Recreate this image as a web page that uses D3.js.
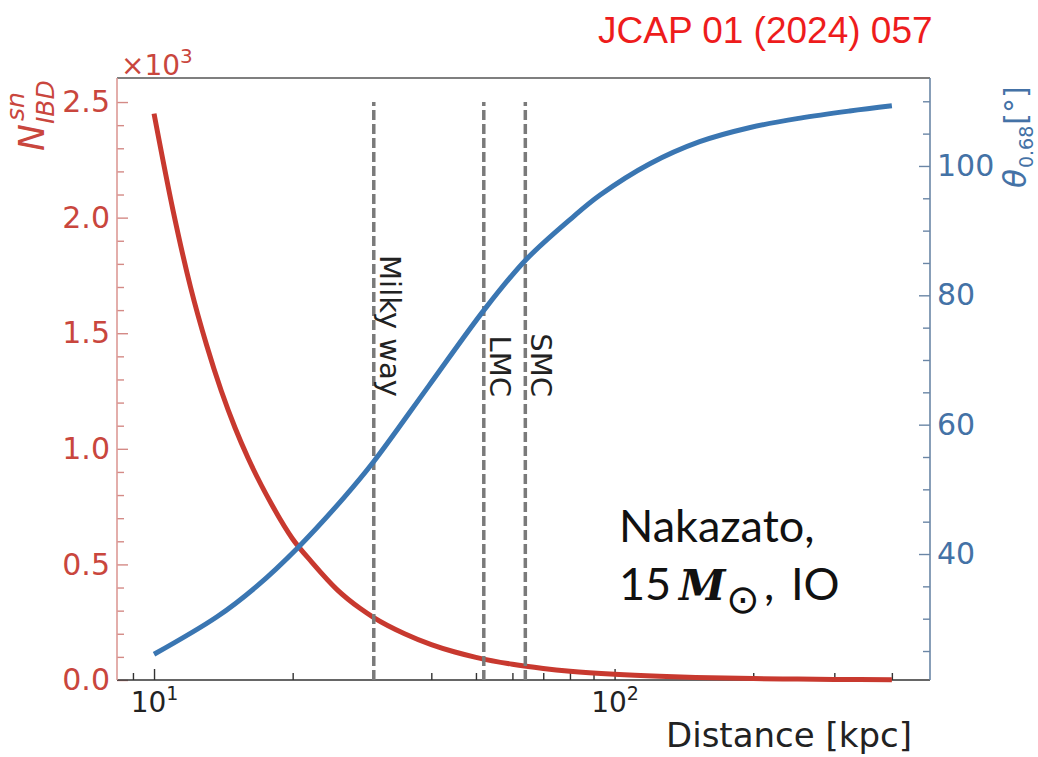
<!DOCTYPE html>
<html>
<head>
<meta charset="utf-8">
<script src="https://cdn.jsdelivr.net/npm/d3@7"></script>
<style>
  body { margin: 0; background: #ffffff; }
  svg { display: block; }
</style>
</head>
<body>
<svg id="chart" width="1038" height="757"></svg>
<script>
// IBD event count (in units of 10^3) versus distance [kpc]
const distanceN = [10, 11, 12, 13, 14, 15, 16, 18, 20, 22, 25, 28, 30, 35, 40, 45, 50, 60, 70, 80, 100, 125, 150, 200, 250, 300, 400];
const nIBD      = [2.45, 2.03, 1.70, 1.45, 1.25, 1.09, 0.96, 0.76, 0.61, 0.51, 0.39, 0.31, 0.27, 0.20, 0.153, 0.121, 0.098, 0.068, 0.050, 0.038, 0.0245, 0.0157, 0.0109, 0.0061, 0.0039, 0.0027, 0.0015];

// 68% pointing cone half-angle [deg] versus distance [kpc]
const distanceTheta = [10, 13.7, 16.7, 20.6, 25.9, 30, 39.5, 52.3, 64.2, 81.2, 93, 119, 153, 197, 253, 324, 400];
const theta68       = [24.5, 30.3, 35.0, 41.1, 48.8, 54.3, 66.0, 77.9, 85.5, 92.1, 95.5, 100.3, 103.75, 105.95, 107.4, 108.5, 109.3];

// reference distances of known galaxies [kpc]
const markerNames = ["Milky way", "LMC", "SMC"];
const markerDistances = [30, 52, 64];

// axis ticks
const leftTicks = [0, 0.5, 1.0, 1.5, 2.0, 2.5];
const leftMinor = d3.range(0, 26).map(i => i / 10).filter(v => Math.round(v * 10) % 5 !== 0);
const rightTicks = [40, 60, 80, 100];
const rightMinor = [25, 30, 35, 45, 50, 55, 65, 70, 75, 85, 90, 95, 105, 110];
const xTicks = [10, 100];
const xMinor = [9, 20, 30, 40, 50, 60, 70, 80, 90, 200, 300, 400];

const plot = { left: 117, right: 930, top: 78, bottom: 680 };

const RED = "#c8392f", RED_TXT = "#c9463d";
const BLUE = "#3a76b2", BLUE_TXT = "#4472a6";
const FONT = "DejaVu Sans";

const svg = d3.select("#chart");

const x = d3.scaleLog().domain([8.31, 484]).range([plot.left, plot.right]);
const yL = d3.scaleLinear().domain([0, 2.604]).range([plot.bottom, plot.top]);
const yR = d3.scaleLinear().domain([20.52, 113.6]).range([plot.bottom, plot.top]);

// ---- axes ----
function styleAxis(g, color, size) {
  g.select(".domain").remove();
  g.selectAll(".tick line").attr("stroke", color).attr("stroke-width", 1.4);
  g.selectAll(".tick text").attr("fill", color).attr("font-family", FONT).attr("font-size", size);
}

// left axis (counts)
svg.append("g")
  .attr("transform", `translate(${plot.left},0)`)
  .call(d3.axisLeft(yL).tickValues(leftMinor).tickSizeInner(-7).tickSizeOuter(0).tickFormat(""))
  .call(g => styleAxis(g, "#d48a86", 30));
svg.append("g")
  .attr("transform", `translate(${plot.left},0)`)
  .call(d3.axisLeft(yL).tickValues(leftTicks).tickSizeInner(-11).tickSizeOuter(0).tickPadding(7).tickFormat(d3.format(".1f")))
  .call(g => styleAxis(g, "#d48a86", 30))
  .call(g => g.selectAll(".tick text").attr("fill", RED_TXT));

// right axis (angle)
svg.append("g")
  .attr("transform", `translate(${plot.right},0)`)
  .call(d3.axisRight(yR).tickValues(rightMinor).tickSizeInner(-7).tickSizeOuter(0).tickFormat(""))
  .call(g => styleAxis(g, "#6a86a6", 30));
svg.append("g")
  .attr("transform", `translate(${plot.right},0)`)
  .call(d3.axisRight(yR).tickValues(rightTicks).tickSizeInner(-11).tickSizeOuter(0).tickPadding(7).tickFormat(d3.format("d")))
  .call(g => styleAxis(g, "#6a86a6", 30))
  .call(g => g.selectAll(".tick text").attr("fill", BLUE_TXT));

// bottom axis (log distance)
svg.append("g")
  .attr("transform", `translate(0,${plot.bottom})`)
  .call(d3.axisBottom(x).tickValues(xMinor).tickSizeInner(-7).tickSizeOuter(0).tickFormat(""))
  .call(g => styleAxis(g, "#333", 28));
const xAxisG = svg.append("g")
  .attr("transform", `translate(0,${plot.bottom})`)
  .call(d3.axisBottom(x).tickValues(xTicks).tickSizeInner(-11).tickSizeOuter(0).tickFormat(""))
  .call(g => styleAxis(g, "#333", 28));
xAxisG.selectAll(".tick text")
  .attr("y", 32).attr("dy", 0).attr("fill", "#222")
  .each(function(d) {
    const t = d3.select(this);
    t.append("tspan").text("10");
    t.append("tspan").attr("font-size", 19).attr("dy", -12).text(Math.round(Math.log10(d)));
  });

// spines
const spines = svg.append("g").attr("fill", "none");
spines.append("line").attr("x1", plot.left).attr("x2", plot.right).attr("y1", plot.top).attr("y2", plot.top)
  .attr("stroke", "#555").attr("stroke-width", 1.6);
spines.append("line").attr("x1", plot.left).attr("x2", plot.right).attr("y1", plot.bottom).attr("y2", plot.bottom)
  .attr("stroke", "#333").attr("stroke-width", 1.6);
spines.append("line").attr("x1", plot.left).attr("x2", plot.left).attr("y1", plot.top).attr("y2", plot.bottom)
  .attr("stroke", "#dc9a96").attr("stroke-width", 1.6);
spines.append("line").attr("x1", plot.right).attr("x2", plot.right).attr("y1", plot.top).attr("y2", plot.bottom)
  .attr("stroke", "#6a86a6").attr("stroke-width", 1.6);

// ---- counts curve ----
const lineN = d3.line()
  .x((d, i) => x(distanceN[i]))
  .y(d => yL(d))
  .curve(d3.curveMonotoneX);
svg.append("path")
  .attr("d", lineN(nIBD))
  .attr("fill", "none").attr("stroke", RED).attr("stroke-width", 5);

// ---- galaxy markers ----
const markers = svg.append("g");
markerDistances.forEach((d, i) => {
  markers.append("line")
    .attr("x1", x(d)).attr("x2", x(d))
    .attr("y1", yL(0)).attr("y2", yL(2.5))
    .attr("stroke", "#7a7a7a").attr("stroke-width", 3.5)
    .attr("stroke-dasharray", "10,4");
  markers.append("text")
    .attr("transform", `translate(${x(d) + 6},397) rotate(90)`)
    .attr("text-anchor", "end")
    .attr("font-family", FONT).attr("font-size", 29).attr("fill", "#222")
    .text(markerNames[i]);
});

// ---- angle curve ----
const lineT = d3.line()
  .x((d, i) => x(distanceTheta[i]))
  .y(d => yR(d))
  .curve(d3.curveCatmullRom.alpha(0.5));
svg.append("path")
  .attr("d", lineT(theta68))
  .attr("fill", "none").attr("stroke", BLUE).attr("stroke-width", 5);

// ---- axis labels ----
svg.append("text")
  .attr("x", 666).attr("y", 747)
  .attr("font-family", FONT).attr("font-size", 34).attr("fill", "#222")
  .text("Distance [kpc]");

// offset multiplier of the count axis
const off = svg.append("text")
  .attr("x", 121).attr("y", 75)
  .attr("font-family", FONT).attr("font-size", 28).attr("fill", RED_TXT);
off.append("tspan").text("×10");
off.append("tspan").attr("font-size", 20).attr("dy", -12).text("3");

// N_IBD^sn
const nl = svg.append("g").attr("transform", "translate(44,151) rotate(-90)")
  .attr("font-family", FONT).attr("fill", RED_TXT).attr("font-style", "italic");
const nMain = nl.append("text").attr("font-size", 36).text("N");
const nW = nMain.node().getComputedTextLength();
nl.append("text").attr("x", nW + 3).attr("y", -20).attr("font-size", 25).text("sn");
nl.append("text").attr("x", nW).attr("y", 10).attr("font-size", 25).text("IBD");

// theta_0.68 [°]
const tl = svg.append("g").attr("transform", "translate(1026,188) rotate(-90)")
  .attr("font-family", FONT).attr("fill", BLUE_TXT);
const tMain = tl.append("text").attr("font-size", 31).attr("font-style", "italic").text("θ");
const tW = tMain.node().getComputedTextLength();
const tSub = tl.append("text").attr("x", tW + 1).attr("y", 7).attr("font-size", 19).text("0.68");
const sW = tSub.node().getComputedTextLength();
tl.append("text").attr("x", tW + sW + 2).attr("font-size", 30).text("[°]");

// ---- model annotation ----
const ann = svg.append("g").attr("fill", "#111");
ann.append("text").attr("x", 619).attr("y", 542)
  .attr("font-family", "Lato").attr("font-size", 45).text("Nakazato,");
const l2 = ann.append("text").attr("y", 600).attr("font-family", "Lato").attr("font-size", 45);
l2.append("tspan").attr("x", 619).text("15");
l2.append("tspan").attr("x", 679).attr("font-family", "DejaVu Serif")
  .attr("font-weight", "bold").attr("font-style", "italic").attr("font-size", 42).text("M");
l2.append("tspan").attr("x", 726).attr("dy", 13).attr("font-family", FONT).attr("font-size", 40).text("⊙");
l2.append("tspan").attr("x", 764).attr("dy", -13).text(",");
l2.append("tspan").attr("x", 791).text("IO");

// ---- journal reference ----
svg.append("text")
  .attr("x", 598).attr("y", 43)
  .attr("font-family", "Liberation Sans").attr("font-size", 37).attr("fill", "#ee1c1c")
  .text("JCAP 01 (2024) 057");
</script>
</body>
</html>
